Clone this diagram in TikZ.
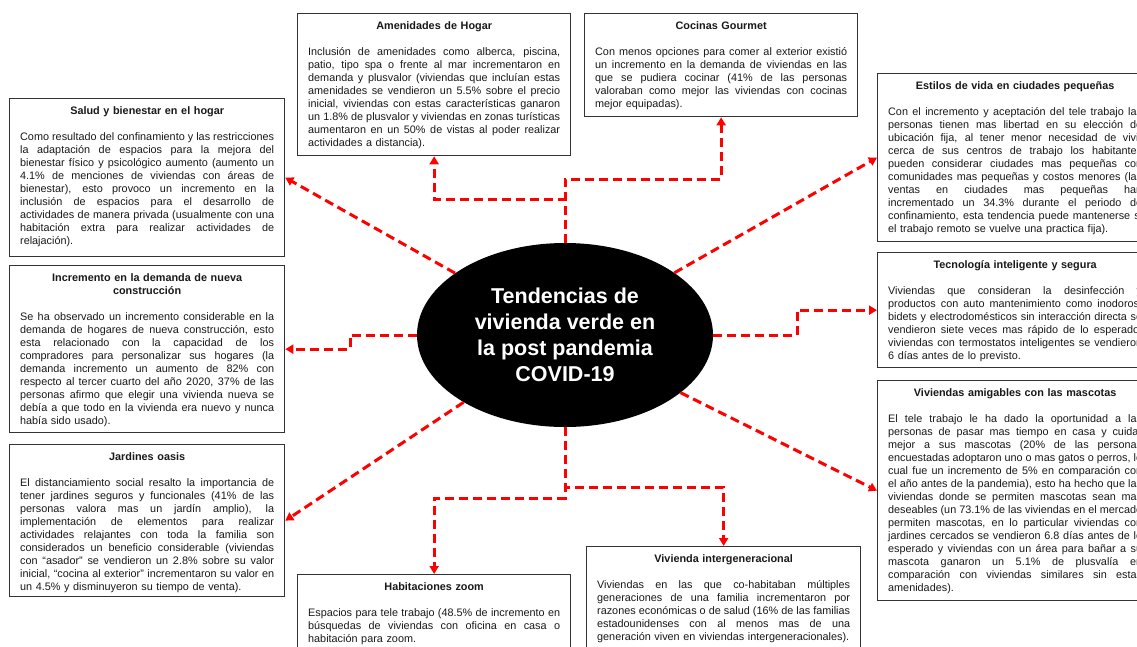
\documentclass[tikz,border=0pt]{standalone}
\usepackage{fontspec}
\setmainfont{Liberation Sans}
\usetikzlibrary{shapes.geometric,arrows.meta}
\newcommand\jl[1]{\hbox to\linewidth{\spaceskip=3pt plus 1fil minus 1pt\relax\xspaceskip=\spaceskip\relax #1}}
\newcommand\fl[1]{\hbox{#1}}
\newcommand\boxtitle[1]{\hbox to\linewidth{\hfil\bfseries\strut#1\hfil}}
\newcommand\gap{\vskip13pt}
\tikzset{
  box/.style={draw=black!80, line width=1.3pt, fill=white, rectangle, inner sep=0pt, anchor=north west},
  txt/.style={inner sep=0pt, anchor=north, yshift=-7.4pt, text width=#1, font=\fontsize{10.85pt}{13pt}\selectfont, text=black!90},
  hub/.style={ellipse, fill=black, draw=none, minimum width=296pt, minimum height=184pt, inner sep=0pt, text=white, align=center, font=\fontsize{21.5pt}{26pt}\selectfont\bfseries},
  conn/.style={draw=red, line width=3pt, dash pattern=on 9pt off 5pt, -{Triangle[length=8pt,width=9pt]}}
}
\begin{document}
\begin{tikzpicture}[x=1pt,y=-1pt]
\useasboundingbox (0,0) rectangle (1137,646);
\clip (0,0) rectangle (1137,646);
\fill[white] (0,0) rectangle (1137,646);

% boxes
\node[box, minimum width=275pt, minimum height=158pt] (salud) at (9,98) {};
\node[box, minimum width=275pt, minimum height=167pt] (incr) at (9,265) {};
\node[box, minimum width=275pt, minimum height=152pt] (jard) at (9,444) {};
\node[box, minimum width=273pt, minimum height=142pt] (amen) at (297,13) {};
\node[box, minimum width=273pt, minimum height=103pt] (coc) at (584,13) {};
\node[box, minimum width=275pt, minimum height=168pt] (est) at (877,73) {};
\node[box, minimum width=275pt, minimum height=115pt] (tec) at (877,252) {};
\node[box, minimum width=275pt, minimum height=220pt] (masc) at (877,380) {};
\node[box, minimum width=273pt, minimum height=86pt] (hab) at (297,574) {};
\node[box, minimum width=274pt, minimum height=114pt] (inter) at (586,546) {};

% texts
\node[txt=254pt] (salud-t) at (salud.north) {%
\boxtitle{Salud y bienestar en el hogar}\gap
\jl{Como resultado del confinamiento y las restricciones}
\jl{la adaptación de espacios para la mejora del}
\jl{bienestar físico y psicológico aumento (aumento un}
\jl{4.1\% de menciones de viviendas con áreas de}
\jl{bienestar), esto provoco un incremento en la}
\jl{inclusión de espacios para el desarrollo de}
\jl{actividades de manera privada (usualmente con una}
\jl{habitación extra para realizar actividades de}
\fl{relajación).}};

\node[txt=254pt] (incr-t) at (incr.north) {%
\boxtitle{Incremento en la demanda de nueva}
\boxtitle{construcción}\gap
\jl{Se ha observado un incremento considerable en la}
\jl{demanda de hogares de nueva construcción, esto}
\jl{esta relacionado con la capacidad de los}
\jl{compradores para personalizar sus hogares (la}
\jl{demanda incremento un aumento de 82\% con}
\jl{respecto al tercer cuarto del año 2020, 37\% de las}
\jl{personas afirmo que elegir una vivienda nueva se}
\jl{debía a que todo en la vivienda era nuevo y nunca}
\fl{había sido usado).}};

\node[txt=254pt] (jard-t) at (jard.north) {%
\boxtitle{Jardines oasis}\gap
\jl{El distanciamiento social resalto la importancia de}
\jl{tener jardines seguros y funcionales (41\% de las}
\jl{personas valora mas un jardín amplio), la}
\jl{implementación de elementos para realizar}
\jl{actividades relajantes con toda la familia son}
\jl{considerados un beneficio considerable (viviendas}
\jl{con “asador” se vendieron un 2.8\% sobre su valor}
\jl{inicial, “cocina al exterior” incrementaron su valor en}
\fl{un 4.5\% y disminuyeron su tiempo de venta).}};

\node[txt=252pt] (amen-t) at (amen.north) {%
\boxtitle{Amenidades de Hogar}\gap
\jl{Inclusión de amenidades como alberca, piscina,}
\jl{patio, tipo spa o frente al mar incrementaron en}
\jl{demanda y plusvalor (viviendas que incluían estas}
\jl{amenidades se vendieron un 5.5\% sobre el precio}
\jl{inicial, viviendas con estas características ganaron}
\jl{un 1.8\% de plusvalor y viviendas en zonas turísticas}
\jl{aumentaron en un 50\% de vistas al poder realizar}
\fl{actividades a distancia).}};

\node[txt=252pt] (coc-t) at (coc.north) {%
\boxtitle{Cocinas Gourmet}\gap
\jl{Con menos opciones para comer al exterior existió}
\jl{un incremento en la demanda de viviendas en las}
\jl{que se pudiera cocinar (41\% de las personas}
\jl{valoraban como mejor las viviendas con cocinas}
\fl{mejor equipadas).}};

\node[txt=254pt] (est-t) at (est.north) {%
\boxtitle{Estilos de vida en ciudades pequeñas}\gap
\jl{Con el incremento y aceptación del tele trabajo las}
\jl{personas tienen mas libertad en su elección de}
\jl{ubicación fija, al tener menor necesidad de vivir}
\jl{cerca de sus centros de trabajo los habitantes}
\jl{pueden considerar ciudades mas pequeñas con}
\jl{comunidades mas pequeñas y costos menores (las}
\jl{ventas en ciudades mas pequeñas han}
\jl{incrementado un 34.3\% durante el periodo de}
\jl{confinamiento, esta tendencia puede mantenerse si}
\fl{el trabajo remoto se vuelve una practica fija).}};

\node[txt=254pt] (tec-t) at (tec.north) {%
\boxtitle{Tecnología inteligente y segura}\gap
\jl{Viviendas que consideran la desinfección y}
\jl{productos con auto mantenimiento como inodoros,}
\jl{bidets y electrodomésticos sin interacción directa se}
\jl{vendieron siete veces mas rápido de lo esperado,}
\jl{viviendas con termostatos inteligentes se vendieron}
\fl{6 días antes de lo previsto.}};

\node[txt=254pt] (masc-t) at (masc.north) {%
\boxtitle{Viviendas amigables con las mascotas}\gap
\jl{El tele trabajo le ha dado la oportunidad a las}
\jl{personas de pasar mas tiempo en casa y cuidar}
\jl{mejor a sus mascotas (20\% de las personas}
\jl{encuestadas adoptaron uno o mas gatos o perros, lo}
\jl{cual fue un incremento de 5\% en comparación con}
\jl{el año antes de la pandemia), esto ha hecho que las}
\jl{viviendas donde se permiten mascotas sean mas}
\jl{deseables (un 73.1\% de las viviendas en el mercado}
\jl{permiten mascotas, en lo particular viviendas con}
\jl{jardines cercados se vendieron 6.8 días antes de lo}
\jl{esperado y viviendas con un área para bañar a su}
\jl{mascota ganaron un 5.1\% de plusvalía en}
\jl{comparación con viviendas similares sin estas}
\fl{amenidades).}};

\node[txt=252pt] (hab-t) at (hab.north) {%
\boxtitle{Habitaciones zoom}\gap
\jl{Espacios para tele trabajo (48.5\% de incremento en}
\jl{búsquedas de viviendas con oficina en casa o}
\fl{habitación para zoom.}};

\node[txt=253pt] (inter-t) at (inter.north) {%
\boxtitle{Vivienda intergeneracional}\gap
\jl{Viviendas en las que co-habitaban múltiples}
\jl{generaciones de una familia incrementaron por}
\jl{razones económicas o de salud (16\% de las familias}
\jl{estadounidenses con al menos mas de una}
\fl{generación viven en viviendas intergeneracionales).}};

% hub
\node[hub] (c) at (565,335) {Tendencias de\\vivienda verde en\\la post pandemia\\COVID-19};

% junctions
\coordinate (j1) at (565,199);
\coordinate (j2) at (565,179);
\coordinate (j3) at (565,487);
\coordinate (j4) at (565,498);
\coordinate (k1) at (350,335);
\coordinate (k2) at (797,335);

% connectors
\draw[conn] (c.north) -- (j1) -| (amen.south);
\draw[conn] (c.north) -- (j2) -| (coc.south);
\draw[conn] (c.south) -- (j4) -| (hab.north);
\draw[conn] (c.south) -- (j3) -| (inter.north);
\draw[conn] (c.west) -- (k1) |- (incr.east);
\draw[conn] (c.east) -- (k2) |- (tec.west);
\draw[conn] (c) -- (salud.east);
\draw[conn] (c) -- (jard.east);
\draw[conn] (c) -- (est.west);
\draw[conn] (c) -- (masc.west);
\end{tikzpicture}
\end{document}
